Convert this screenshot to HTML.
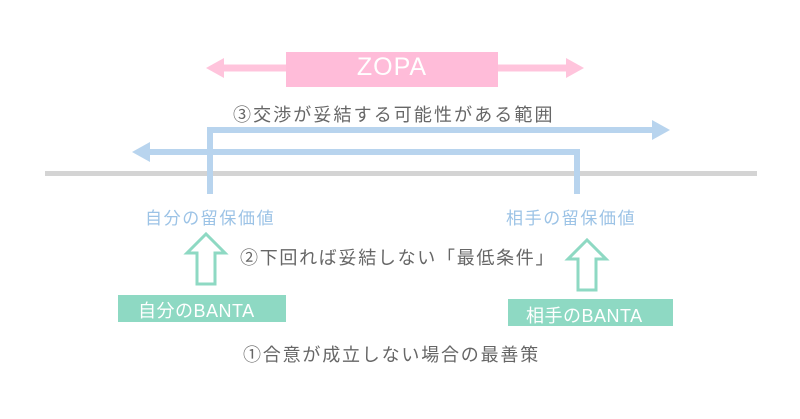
<!DOCTYPE html>
<html><head><meta charset="utf-8"><style>
body{margin:0;background:#fff;}
.w{position:relative;width:800px;height:419px;overflow:hidden;font-family:"Liberation Sans","Noto Sans CJK JP",sans-serif;}
.t{position:absolute;white-space:nowrap;}
</style></head><body><div class="w">
<svg width="800" height="419" style="position:absolute;left:0;top:0">
<rect x="45" y="171" width="712" height="5" fill="#d4d4d4"/>
<line x1="218" y1="68" x2="572" y2="68" stroke="#ffc4dc" stroke-width="7"/>
<polygon points="206,68 224,58 224,78" fill="#ffc4dc"/>
<polygon points="584,68 566,58 566,78" fill="#ffc4dc"/>
<rect x="286" y="52" width="212" height="35" fill="#ffbcd9"/>
<polyline points="210,194 210,130 656,130" fill="none" stroke="#b8d4ee" stroke-width="6"/>
<polygon points="670,130 652,120 652,140" fill="#b8d4ee"/>
<polyline points="577,194 577,152 146,152" fill="none" stroke="#b8d4ee" stroke-width="6"/>
<polygon points="132,152 150,142 150,162" fill="#b8d4ee"/>
<polygon points="197,284 197,253 187,253 206,234 225,253 215,253 215,284" fill="none" stroke="#8ed9c3" stroke-width="3"/>
<polygon points="578,290 578,259 568,259 587,240 606,259 596,259 596,290" fill="none" stroke="#8ed9c3" stroke-width="3"/>
<rect x="118" y="295" width="168" height="27" fill="#8ed9c3"/>
<rect x="508" y="299" width="165" height="27" fill="#8ed9c3"/>
</svg>
<div class="t" style="left:286px;top:53px;width:212px;text-align:center;color:#fff;font-size:25px;letter-spacing:1px">ZOPA</div>
<div class="t" style="left:233px;top:101px;color:#666;font-size:18px;letter-spacing:2.1px">③交渉が妥結する可能性がある範囲</div>
<div class="t" style="left:145px;top:204px;color:#9cc3e6;font-size:17px;letter-spacing:1.6px">自分の留保価値</div>
<div class="t" style="left:506px;top:204px;color:#9cc3e6;font-size:17px;letter-spacing:1.6px">相手の留保価値</div>
<div class="t" style="left:240px;top:244px;color:#666;font-size:18px;letter-spacing:1.7px">②下回れば妥結しない「最低条件」</div>
<div class="t" style="left:138px;top:297px;color:#fff;font-size:18px;letter-spacing:0.5px">自分のBANTA</div>
<div class="t" style="left:526px;top:302px;color:#fff;font-size:18px;letter-spacing:0.5px">相手のBANTA</div>
<div class="t" style="left:243px;top:341px;color:#666;font-size:18px;letter-spacing:1.8px">①合意が成立しない場合の最善策</div>
</div></body></html>
